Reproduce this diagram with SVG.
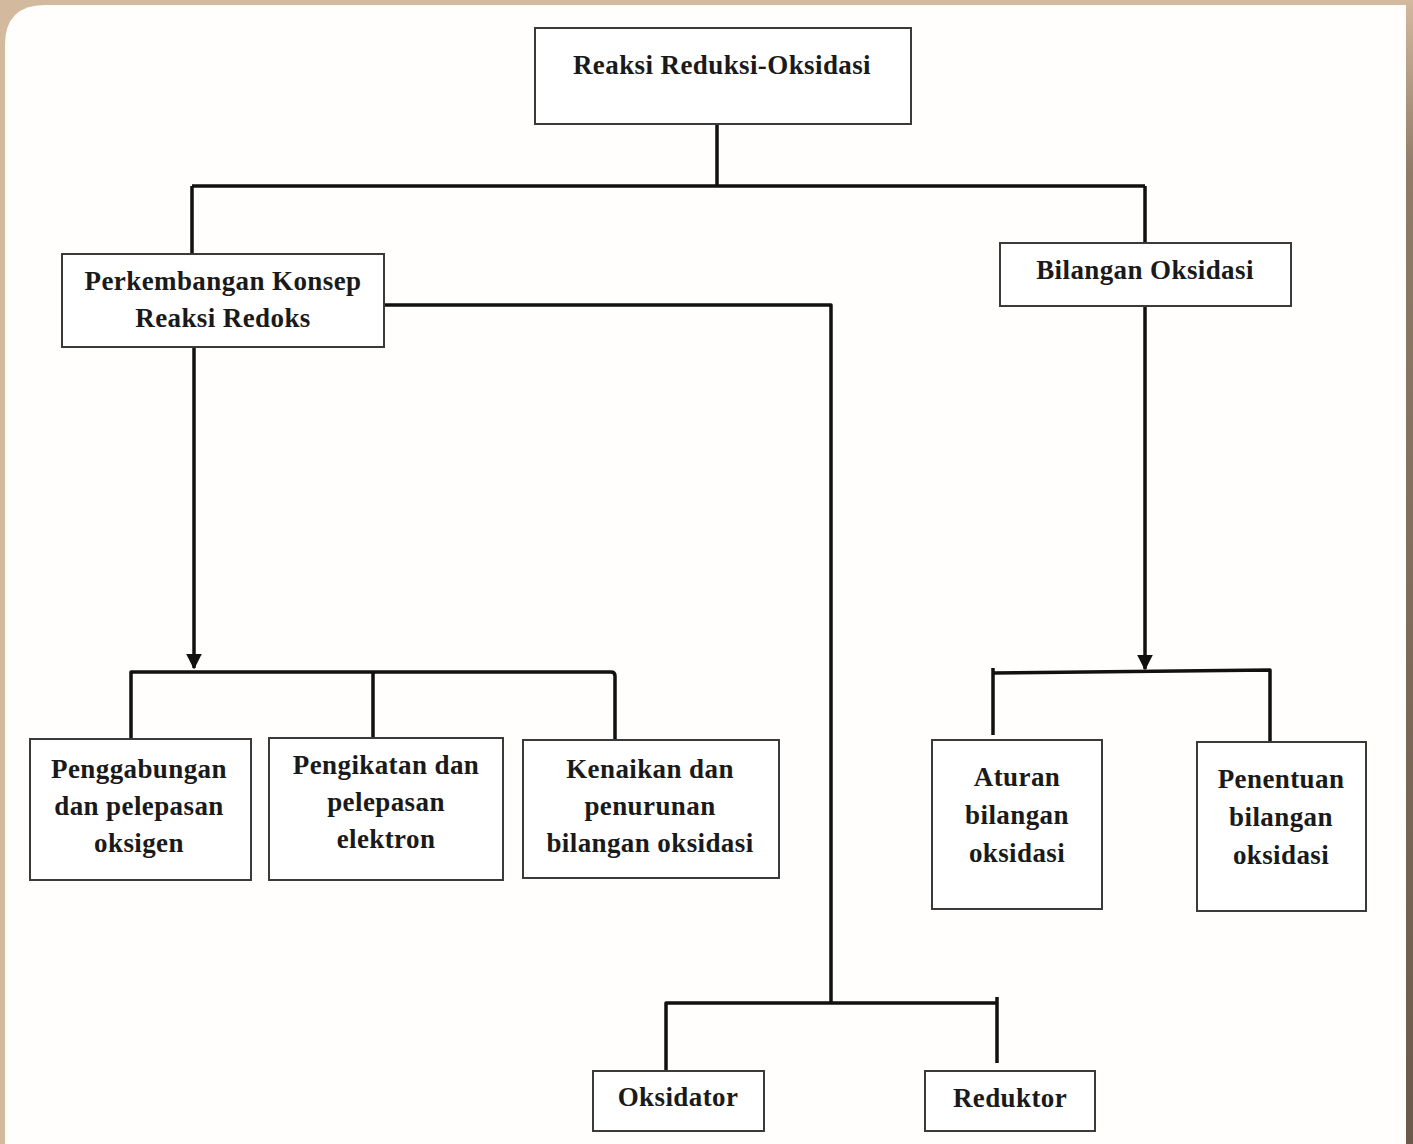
<svg xmlns="http://www.w3.org/2000/svg" width="1413" height="1144" viewBox="0 0 1413 1144">
<defs>
<linearGradient id="rs" x1="0" y1="0" x2="0" y2="1">
<stop offset="0" stop-color="#d3b99e"/>
<stop offset="0.15" stop-color="#8f7b68"/>
<stop offset="1" stop-color="#6b5a4b"/>
</linearGradient>
<marker id="ah" viewBox="0 0 10 10" refX="9" refY="5" markerWidth="4.5" markerHeight="4.5" orient="auto" markerUnits="strokeWidth">
<path d="M0,0 L10,5 L0,10 z" fill="#111"/>
</marker>
<style>
.box{fill:#fff;stroke:#3a3a3a;stroke-width:2}
.t{font-family:"Liberation Serif","Times New Roman",serif;font-weight:bold;font-size:27px;fill:#1a1a1a;text-anchor:middle;letter-spacing:0.4px}
.c{fill:none;stroke:#111;stroke-width:3.5;stroke-linejoin:round}
</style>
</defs>
<rect x="0" y="0" width="1413" height="1144" fill="#d3b99e"/>
<rect x="1406" y="0" width="7" height="1144" fill="url(#rs)"/>
<path d="M45,5 L1406,5 L1406,1144 L5,1144 L5,45 Q5,5 45,5 z" fill="#fffefc"/>

<g id="connectors">
<path class="c" d="M717,120 V186 M192,186 H1145 M192,186 V254 M1145,186 V243"/>
<path class="c" d="M194,340 V668" marker-end="url(#ah)"/>
<path class="c" d="M131,739 V672 H611 Q615,672 615,676 V740 M373,672 V738"/>
<path class="c" d="M384,305 H831 V1003 M666,1071 V1003 H997 M997,997 V1063"/>
<path class="c" d="M1145,306 V669" marker-end="url(#ah)"/>
<path class="c" d="M993,735 V668 M993,673 L1270,670 V742"/>
</g>

<g id="n-reaksi"><rect class="box" x="535" y="28" width="376" height="96"/><text class="t" x="722" y="74">Reaksi Reduksi-Oksidasi</text></g>
<g id="n-perkembangan"><rect class="box" x="62" y="254" width="322" height="93"/><text class="t" x="223" y="290">Perkembangan Konsep</text><text class="t" x="223" y="327">Reaksi Redoks</text></g>
<g id="n-bilangan"><rect class="box" x="1000" y="243" width="291" height="63"/><text class="t" x="1145" y="279">Bilangan Oksidasi</text></g>
<g id="n-penggabungan"><rect class="box" x="30" y="739" width="221" height="141"/><text class="t" x="139" y="778">Penggabungan</text><text class="t" x="139" y="815">dan pelepasan</text><text class="t" x="139" y="852">oksigen</text></g>
<g id="n-pengikatan"><rect class="box" x="269" y="738" width="234" height="142"/><text class="t" x="386" y="774">Pengikatan dan</text><text class="t" x="386" y="811">pelepasan</text><text class="t" x="386" y="848">elektron</text></g>
<g id="n-kenaikan"><rect class="box" x="523" y="740" width="256" height="138"/><text class="t" x="650" y="778">Kenaikan dan</text><text class="t" x="650" y="815">penurunan</text><text class="t" x="650" y="852">bilangan oksidasi</text></g>
<g id="n-aturan"><rect class="box" x="932" y="740" width="170" height="169"/><text class="t" x="1017" y="786">Aturan</text><text class="t" x="1017" y="824">bilangan</text><text class="t" x="1017" y="862">oksidasi</text></g>
<g id="n-penentuan"><rect class="box" x="1197" y="742" width="169" height="169"/><text class="t" x="1281" y="788">Penentuan</text><text class="t" x="1281" y="826">bilangan</text><text class="t" x="1281" y="864">oksidasi</text></g>
<g id="n-oksidator"><rect class="box" x="593" y="1071" width="171" height="60"/><text class="t" x="678" y="1106">Oksidator</text></g>
<g id="n-reduktor"><rect class="box" x="925" y="1071" width="170" height="60"/><text class="t" x="1010" y="1107">Reduktor</text></g>
</svg>
